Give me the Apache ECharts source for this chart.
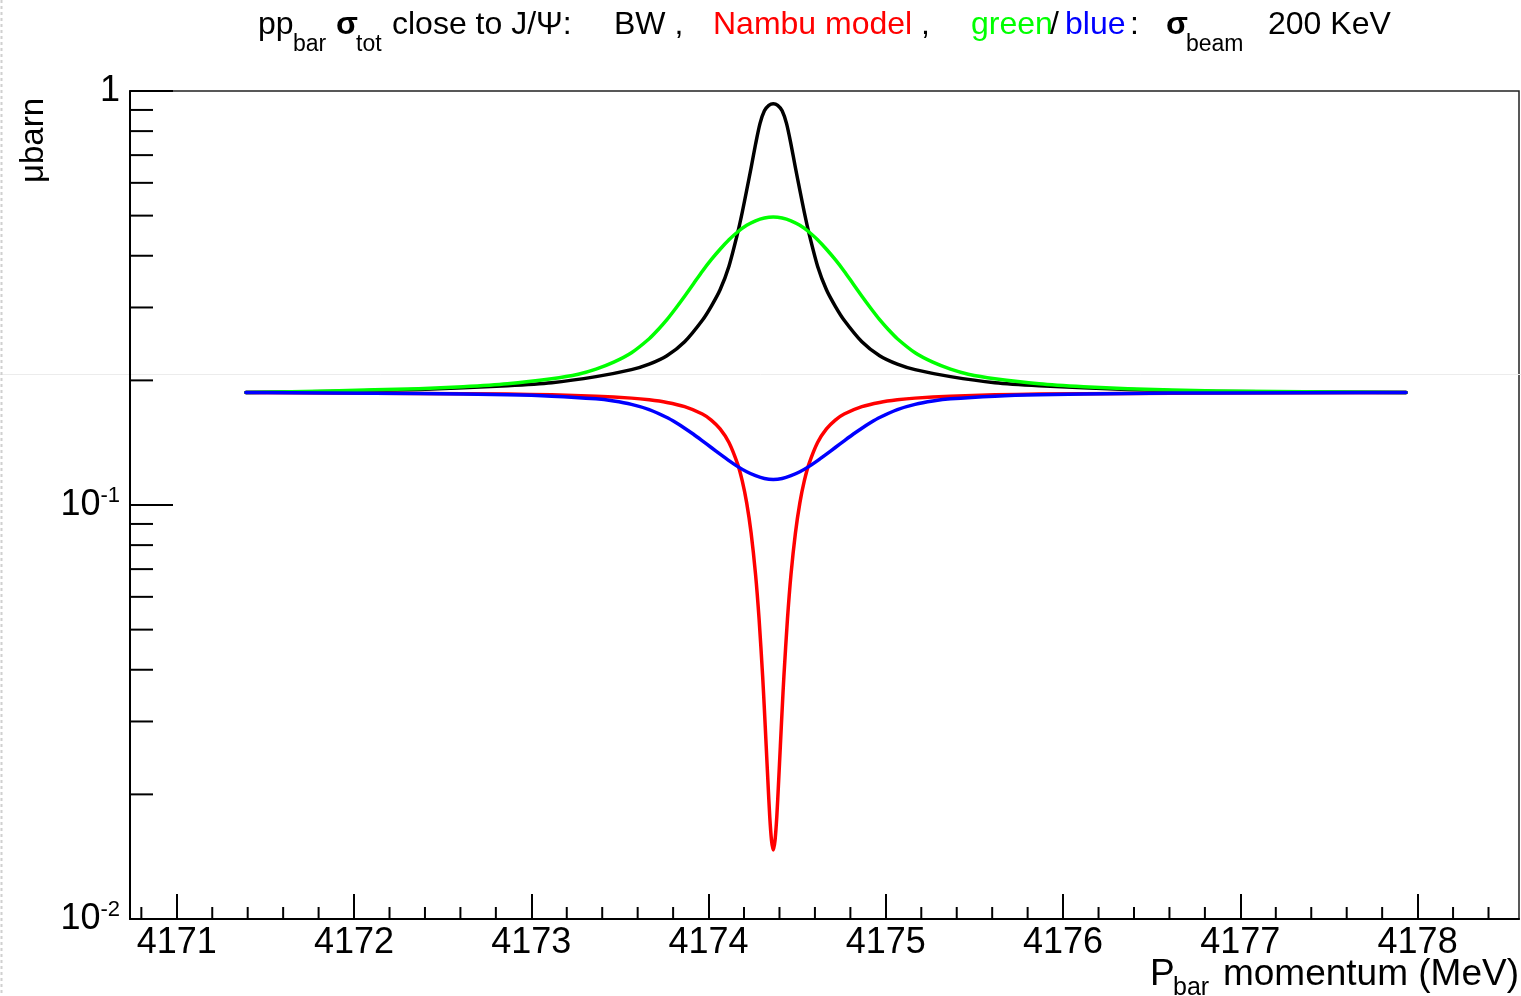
<!DOCTYPE html>
<html>
<head>
<meta charset="utf-8">
<script src="https://cdn.jsdelivr.net/npm/echarts@6/dist/echarts.min.js"></script>
<style>
  html, body { margin: 0; padding: 0; background: #fff; }
  #chart { width: 1521px; height: 996px; }
</style>
</head>
<body>
<div id="chart"></div>
<script>
// ---- axis ranges ----
const X_MIN = 4170.736;
const X_MAX = 4178.572;
const Y_MIN = 0.01;
const Y_MAX = 1;

// ---- minor tick positions ----
const xMinorTicks = [4170.8, 4171.2, 4171.4, 4171.6, 4171.8, 4172.2, 4172.4, 4172.6, 4172.8,
  4173.2, 4173.4, 4173.6, 4173.8, 4174.2, 4174.4, 4174.6, 4174.8, 4175.2, 4175.4, 4175.6, 4175.8,
  4176.2, 4176.4, 4176.6, 4176.8, 4177.2, 4177.4, 4177.6, 4177.8, 4178.2, 4178.4];
const yMinorTicks = [0.02, 0.03, 0.04, 0.05, 0.06, 0.07, 0.08, 0.09,
  0.2, 0.3, 0.4, 0.5, 0.6, 0.7, 0.8, 0.9];

// ---- BW (black) ----
const bwX = [4171.390, 4171.865, 4172.365, 4172.865, 4173.115, 4173.365, 4173.565, 4173.665,
  4173.765, 4173.865, 4173.965, 4174.015, 4174.065, 4174.115, 4174.165, 4174.190, 4174.215,
  4174.240, 4174.265, 4174.290, 4174.315, 4174.340, 4174.365, 4174.390, 4174.415, 4174.440,
  4174.465, 4174.490, 4174.515, 4174.540, 4174.565, 4174.615, 4174.665, 4174.715, 4174.765,
  4174.865, 4174.965, 4175.065, 4175.165, 4175.365, 4175.615, 4175.865, 4176.365, 4176.865, 4177.935];
const bwY = [0.1870, 0.1881, 0.1901, 0.1942, 0.1974, 0.2042, 0.2123, 0.2189,
  0.2294, 0.2480, 0.2795, 0.3020, 0.3311, 0.3775, 0.4559, 0.5095, 0.5758,
  0.6526, 0.7435, 0.8340, 0.8956, 0.9236, 0.9320, 0.9236, 0.8956, 0.8340,
  0.7435, 0.6526, 0.5758, 0.5095, 0.4559, 0.3775, 0.3311, 0.3020, 0.2795,
  0.2480, 0.2294, 0.2189, 0.2123, 0.2042, 0.1974, 0.1942, 0.1901, 0.1881, 0.1870];

// ---- Nambu model (red) ----
const nambuX = [4171.390, 4171.865, 4172.365, 4172.865, 4173.115, 4173.365, 4173.565, 4173.665,
  4173.765, 4173.865, 4173.965, 4174.015, 4174.065, 4174.115, 4174.165, 4174.190, 4174.215,
  4174.240, 4174.265, 4174.285, 4174.305, 4174.315, 4174.325, 4174.335, 4174.345, 4174.355,
  4174.365, 4174.375, 4174.385, 4174.395, 4174.405, 4174.415, 4174.425, 4174.445, 4174.465,
  4174.490, 4174.515, 4174.540, 4174.565, 4174.615, 4174.665, 4174.715, 4174.765, 4174.865,
  4174.965, 4175.065, 4175.165, 4175.365, 4175.615, 4175.865, 4176.365, 4176.865, 4177.935];
const nambuY = [0.1870, 0.1864, 0.1860, 0.1853, 0.1846, 0.1832, 0.1812, 0.1795,
  0.1769, 0.1728, 0.1659, 0.1604, 0.1527, 0.1416, 0.1252, 0.1143, 0.1012,
  0.0856, 0.0680, 0.0530, 0.0386, 0.0320, 0.0262, 0.0214, 0.0177, 0.0155,
  0.01468, 0.0155, 0.0177, 0.0214, 0.0262, 0.0320, 0.0386, 0.0530, 0.0680,
  0.0856, 0.1012, 0.1143, 0.1252, 0.1416, 0.1527, 0.1604, 0.1659, 0.1728,
  0.1769, 0.1795, 0.1812, 0.1832, 0.1846, 0.1853, 0.1860, 0.1864, 0.1870];

// ---- green: BW smeared by 200 KeV beam ----
const greenX = [4171.390, 4171.865, 4172.365, 4172.615, 4172.865, 4173.115, 4173.265, 4173.365,
  4173.465, 4173.565, 4173.665, 4173.715, 4173.765, 4173.815, 4173.865, 4173.915, 4173.965,
  4174.015, 4174.065, 4174.115, 4174.165, 4174.215, 4174.265, 4174.315, 4174.365, 4174.415,
  4174.465, 4174.515, 4174.565, 4174.615, 4174.665, 4174.715, 4174.765, 4174.815, 4174.865,
  4174.915, 4174.965, 4175.015, 4175.065, 4175.165, 4175.265, 4175.365, 4175.465, 4175.615,
  4175.865, 4176.115, 4176.365, 4176.865, 4177.935];
const greenY = [0.1870, 0.1886, 0.1910, 0.1931, 0.1963, 0.2019, 0.2070, 0.2129,
  0.2213, 0.2332, 0.2521, 0.2651, 0.2803, 0.2987, 0.3193, 0.3423, 0.3671,
  0.3913, 0.4147, 0.4372, 0.4571, 0.4738, 0.4859, 0.4936, 0.4963, 0.4936,
  0.4859, 0.4738, 0.4571, 0.4372, 0.4147, 0.3913, 0.3671, 0.3423, 0.3193,
  0.2987, 0.2803, 0.2651, 0.2521, 0.2332, 0.2213, 0.2129, 0.2070, 0.2019,
  0.1963, 0.1931, 0.1910, 0.1886, 0.1870];

// ---- blue: Nambu model smeared by 200 KeV beam ----
const blueX = [4171.390, 4171.865, 4172.365, 4172.865, 4173.115, 4173.365, 4173.465, 4173.565,
  4173.665, 4173.765, 4173.815, 4173.865, 4173.915, 4173.965, 4174.015, 4174.065, 4174.115,
  4174.165, 4174.215, 4174.265, 4174.315, 4174.365, 4174.415, 4174.465, 4174.515, 4174.565,
  4174.615, 4174.665, 4174.715, 4174.765, 4174.815, 4174.865, 4174.915, 4174.965, 4175.065,
  4175.165, 4175.265, 4175.365, 4175.615, 4175.865, 4176.365, 4176.865, 4177.935];
const blueY = [0.1870, 0.1865, 0.1860, 0.1846, 0.1832, 0.1805, 0.1783, 0.1750,
  0.1700, 0.1627, 0.1582, 0.1533, 0.1482, 0.1429, 0.1377, 0.1327, 0.1280,
  0.1238, 0.1203, 0.1177, 0.1159, 0.1153, 0.1159, 0.1177, 0.1203, 0.1238,
  0.1280, 0.1327, 0.1377, 0.1429, 0.1482, 0.1533, 0.1582, 0.1627, 0.1700,
  0.1750, 0.1783, 0.1805, 0.1832, 0.1846, 0.1860, 0.1865, 0.1870];

const FONT = '"Liberation Sans", Arial, Helvetica, sans-serif';

function zip(xs, ys) { return xs.map((x, i) => [x, ys[i]]); }

function curve(name, xs, ys, color, z) {
  return {
    name, type: 'line', data: zip(xs, ys), showSymbol: false, symbol: 'none',
    smooth: 0.25, z: z,
    lineStyle: { color: color, width: 3.5, join: 'round', cap: 'round' },
    emphasis: { disabled: true }, animation: false
  };
}

function txt(text, x, y, size, color, weight) {
  return { type: 'text', x: x, y: y, z: 10,
    style: { text: text, fontSize: size, fontFamily: FONT, fill: color || '#000',
      fontWeight: weight || 'normal', align: 'left', verticalAlign: 'middle' } };
}

const chart = echarts.init(document.getElementById('chart'), null, { renderer: 'canvas' });

const option = {
  animation: false,
  backgroundColor: '#fff',
  grid: { left: 130, top: 91, width: 1389, height: 828, show: true,
    borderColor: '#222', borderWidth: 1.5, backgroundColor: 'transparent', containLabel: false },
  xAxis: {
    type: 'value', min: X_MIN, max: X_MAX, splitNumber: 8,
    axisLine: { show: true, onZero: false, lineStyle: { color: '#000', width: 2 } },
    axisTick: { show: true, inside: true, length: 25, lineStyle: { color: '#000', width: 2 } },
    splitLine: { show: false },
    axisLabel: { show: true, showMinLabel: false, showMaxLabel: false, margin: 6,
      fontSize: 36, fontFamily: FONT, color: '#000',
      formatter: v => String(Math.round(v)) }
  },
  yAxis: {
    type: 'log', logBase: 10, min: Y_MIN, max: Y_MAX,
    axisLine: { show: true, lineStyle: { color: '#000', width: 2 } },
    axisTick: { show: true, inside: true, length: 43, lineStyle: { color: '#000', width: 2 } },
    splitLine: { show: false },
    minorTick: { show: false },
    axisLabel: {
      show: true, margin: 10, color: '#000',
      formatter: function (v) {
        const e = Math.round(Math.log10(v));
        if (e === 0) return '{b|1}';
        return '{b|10}{s|' + e + '}';
      },
      rich: {
        b: { fontSize: 36, fontFamily: FONT, color: '#000', lineHeight: 40 },
        s: { fontSize: 22, fontFamily: FONT, color: '#000', verticalAlign: 'top', lineHeight: 22 }
      }
    }
  },
  series: [
    {
      type: 'custom', name: 'yminor', z: 5, silent: true,
      data: yMinorTicks.map(v => [X_MIN, v]),
      encode: { x: 0, y: 1 },
      renderItem: function (params, api) {
        const p = api.coord([api.value(0), api.value(1)]);
        return { type: 'line', shape: { x1: p[0], y1: p[1], x2: p[0] + 23, y2: p[1] },
          style: { stroke: '#000', lineWidth: 2 } };
      }
    },
    {
      type: 'custom', name: 'xminor', z: 5, silent: true,
      data: xMinorTicks.map(v => [v, Y_MIN]),
      encode: { x: 0, y: 1 },
      renderItem: function (params, api) {
        const p = api.coord([api.value(0), api.value(1)]);
        return { type: 'line', shape: { x1: p[0], y1: p[1], x2: p[0], y2: p[1] - 12 },
          style: { stroke: '#000', lineWidth: 2 } };
      }
    },
    curve('BW', bwX, bwY, '#000000', 3),
    curve('Nambu model', nambuX, nambuY, '#ff0000', 4),
    curve('green', greenX, greenY, '#00ff00', 5),
    curve('blue', blueX, blueY, '#0000ff', 6)
  ],
  graphic: [
    { type: 'line', z: 0, silent: true, shape: { x1: 0, y1: 374.5, x2: 1521, y2: 374.5 },
      style: { stroke: '#ececec', lineWidth: 1 } },
    { type: 'line', z: 0, silent: true, shape: { x1: 1.5, y1: 0, x2: 1.5, y2: 996 },
      style: { stroke: '#d0d0d0', lineWidth: 2, lineDash: [3, 3] } },
    // title
    txt('pp', 258, 25, 32),
    txt('bar', 293, 45, 23),
    txt('σ', 336, 25, 32, '#000', 'bold'),
    txt('tot', 356, 45, 23),
    txt('close to J/Ψ:', 392, 25, 32),
    txt('BW ,', 614, 25, 32),
    txt('Nambu model', 713, 25, 32, '#ff0000'),
    txt(',', 921, 25, 32),
    txt('green', 971, 25, 32, '#00ff00'),
    txt('/', 1050, 25, 32),
    txt('blue', 1065, 25, 32, '#0000ff'),
    txt(':', 1130, 25, 32),
    txt('σ', 1166, 25, 32, '#000', 'bold'),
    txt('beam', 1186, 45, 23),
    txt('200 KeV', 1268, 25, 32),
    // x axis title
    txt('P', 1150, 975, 37),
    txt('bar', 1173, 988, 25),
    { type: 'text', x: 1519, y: 975, z: 10,
      style: { text: 'momentum (MeV)', fontSize: 37, fontFamily: FONT, fill: '#000',
        align: 'right', verticalAlign: 'middle' } },
    // y axis title
    { type: 'text', x: 34, y: 98, rotation: Math.PI / 2, z: 10,
      style: { text: 'μbarn', fontSize: 33, fontFamily: FONT, fill: '#000',
        align: 'right', verticalAlign: 'middle' } }
  ]
};

chart.setOption(option);
</script>
</body>
</html>
